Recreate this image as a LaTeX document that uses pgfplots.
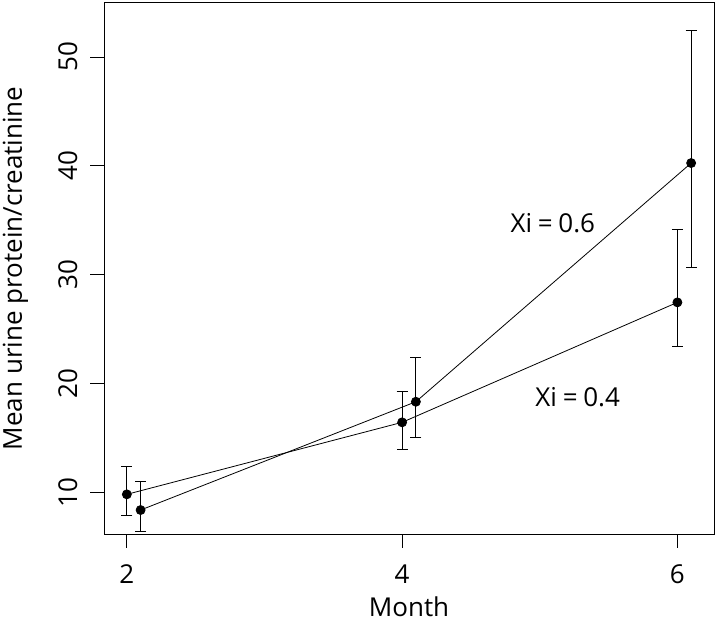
\documentclass[border=0pt]{standalone}
\usepackage{pgfplots}
\pgfplotsset{compat=1.18}
\usepackage{pgfplotstable}
\usepackage{fontspec}
\setmainfont{Open Sans}

\pgfplotstableread{
x    y      ep     em
2.0  9.85   2.60   1.90
4.0  16.46  2.87   2.46
6.0  27.47  6.73   4.07
}\seriesA
\pgfplotstableread{
x    y      ep     em
2.1  8.41   2.66   1.99
4.1  18.35  4.07   3.24
6.1  40.26  12.19  9.62
}\seriesB

\begin{document}
\begin{tikzpicture}[font=\fontsize{26bp}{30bp}\selectfont]
\useasboundingbox (-104bp,-94bp) rectangle (616bp,534bp);
\begin{axis}[
  scale only axis,
  width=610bp, height=531.3bp,
  xmin=1.834, xmax=6.266, ymin=6.21, ymax=54.98,
  xtick={2,4,6}, ytick={10,20,30,40,50},
  xtick pos=bottom, ytick pos=left,
  tick align=outside,
  major tick length=13.5bp,
  tick style={black, line width=0.8bp},
  axis line style={black, line width=0.8bp},
  /pgf/number format/assume math mode=true,
  xticklabel style={anchor=north, inner sep=0pt},
  yticklabel style={rotate=90, anchor=south, inner sep=0pt},
  xticklabel shift=17bp,
  yticklabel shift=13bp,
  xlabel={Month},
  ylabel={Mean urine protein/creatinine},
  xlabel style={at={(axis description cs:0.5,-0.1374)}, anchor=center},
  ylabel style={at={(axis description cs:-0.1450,0.5)}, anchor=center},
  every axis plot/.append style={black, line width=0.8bp},
  clip=false,
]
\addplot+[black, mark=*, mark size=4.5bp, mark options={fill=black, solid},
  error bars/.cd, y dir=both, y explicit,
  error bar style={line width=0.8bp, black},
  error mark options={rotate=90, mark size=5.5bp, line width=0.8bp, black}]
  table[x=x, y=y, y error plus=ep, y error minus=em] {\seriesA};
\addplot+[black, mark=*, mark size=4.5bp, mark options={fill=black, solid},
  error bars/.cd, y dir=both, y explicit,
  error bar style={line width=0.8bp, black},
  error mark options={rotate=90, mark size=5.5bp, line width=0.8bp, black}]
  table[x=x, y=y, y error plus=ep, y error minus=em] {\seriesB};
\node at (axis cs:5.095,34.77) {Xi\hspace{0.22em}=\hspace{0.22em}0.6};
\node at (axis cs:5.276,18.78) {Xi\hspace{0.22em}=\hspace{0.22em}0.4};
\end{axis}
\end{tikzpicture}
\end{document}
